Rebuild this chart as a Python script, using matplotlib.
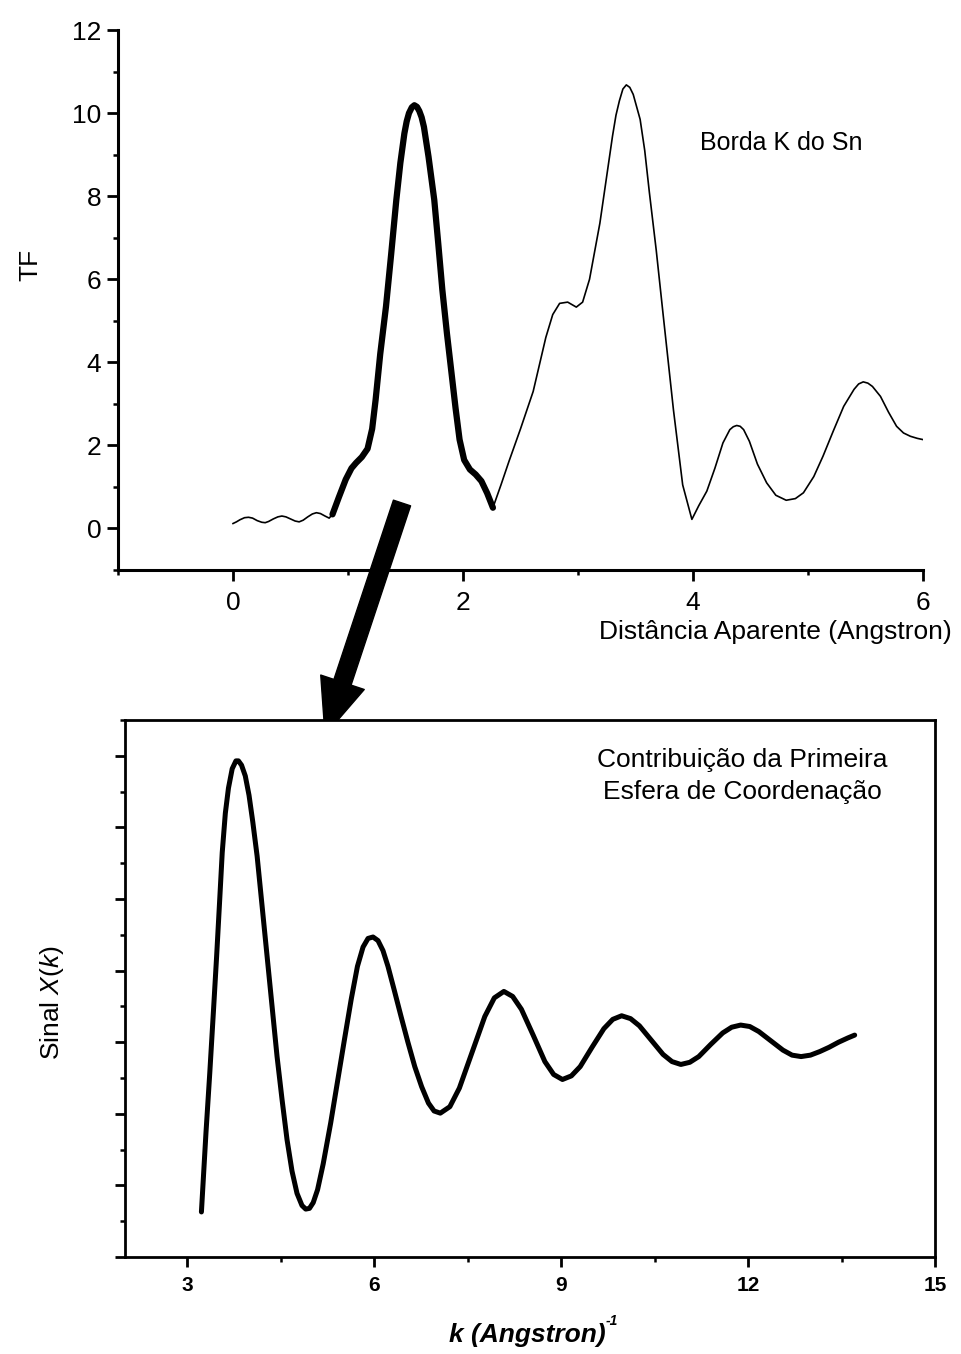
import numpy as np
import matplotlib.pyplot as plt
from matplotlib.ticker import MultipleLocator

plt.rcParams['font.family'] = ['Liberation Sans', 'DejaVu Sans']
plt.rcParams['mathtext.fontset'] = 'custom'
plt.rcParams['mathtext.rm'] = 'Liberation Sans'
plt.rcParams['mathtext.it'] = 'Liberation Sans:italic'

# Fourier transform of the Sn K-edge EXAFS, split around the first shell
R_BEFORE = [0.0, 0.03, 0.06, 0.10, 0.135, 0.17, 0.21, 0.25, 0.28, 0.31,
            0.35, 0.39, 0.425, 0.46, 0.50, 0.54, 0.575, 0.61, 0.65, 0.69,
            0.725, 0.76, 0.80, 0.836, 0.865]
TF_BEFORE = [0.12, 0.16, 0.21, 0.26, 0.27, 0.25, 0.19, 0.15, 0.14, 0.17,
             0.23, 0.28, 0.30, 0.28, 0.23, 0.18, 0.16, 0.20, 0.28, 0.35,
             0.38, 0.36, 0.30, 0.25, 0.34]

R_SHELL = [0.865, 0.92, 0.98, 1.03, 1.07, 1.12, 1.17, 1.21, 1.24, 1.28,
           1.33, 1.375, 1.42, 1.455, 1.49, 1.51, 1.53, 1.555, 1.577, 1.60,
           1.62, 1.64, 1.66, 1.70, 1.75, 1.785, 1.82, 1.86, 1.90, 1.935,
           1.97, 2.01, 2.06, 2.11, 2.16, 2.21, 2.26]
TF_SHELL = [0.34, 0.75, 1.18, 1.45, 1.58, 1.72, 1.92, 2.40, 3.10, 4.20,
            5.34, 6.60, 7.91, 8.80, 9.51, 9.80, 10.00, 10.14, 10.19, 10.15,
            10.05, 9.90, 9.67, 8.95, 7.91, 6.85, 5.75, 4.70, 3.74, 2.90,
            2.14, 1.65, 1.42, 1.30, 1.14, 0.85, 0.50]

R_AFTER = [2.26, 2.33, 2.40, 2.50, 2.61, 2.72, 2.78, 2.84, 2.91, 2.985,
           3.04, 3.10, 3.19, 3.30, 3.33, 3.36, 3.39, 3.42, 3.45, 3.48,
           3.54, 3.58, 3.62, 3.68, 3.74, 3.83, 3.91, 3.99, 4.05, 4.12,
           4.19, 4.26, 4.32, 4.35, 4.38, 4.41, 4.44, 4.49, 4.56, 4.64,
           4.72, 4.81, 4.89, 4.96, 5.05, 5.13, 5.22, 5.31, 5.40, 5.44,
           5.48, 5.52, 5.56, 5.63, 5.70, 5.77, 5.83, 5.89, 5.95, 6.00]
TF_AFTER = [0.50, 1.05, 1.62, 2.40, 3.30, 4.60, 5.15, 5.42, 5.45, 5.33,
            5.45, 6.00, 7.35, 9.45, 9.95, 10.30, 10.58, 10.68, 10.62, 10.45,
            9.85, 9.10, 8.10, 6.70, 5.15, 2.85, 1.05, 0.22, 0.55, 0.90,
            1.45, 2.06, 2.38, 2.45, 2.48, 2.46, 2.38, 2.10, 1.55, 1.10,
            0.80, 0.68, 0.72, 0.86, 1.25, 1.74, 2.35, 2.94, 3.35, 3.48,
            3.53, 3.50, 3.42, 3.18, 2.80, 2.46, 2.30, 2.22, 2.17, 2.14]

# back-transformed first coordination shell signal (arbitrary units)
K_VALS = [3.226, 3.30, 3.36, 3.42, 3.47, 3.52, 3.56, 3.61, 3.66, 3.72,
          3.78, 3.82, 3.87, 3.93, 3.99, 4.05, 4.12, 4.20, 4.28, 4.36,
          4.44, 4.52, 4.60, 4.68, 4.76, 4.84, 4.90, 4.96, 5.02, 5.09,
          5.18, 5.30, 5.41, 5.52, 5.63, 5.73, 5.82, 5.90, 5.98, 6.06,
          6.14, 6.22, 6.32, 6.43, 6.54, 6.65, 6.76, 6.87, 6.96, 7.06,
          7.213, 7.366, 7.57, 7.774, 7.927, 8.08,
          8.221, 8.362, 8.55, 8.738, 8.879, 9.02,
          9.163, 9.305, 9.495, 9.685, 9.828, 9.97,
          10.113, 10.255, 10.445, 10.635, 10.778, 10.92,
          11.064, 11.208, 11.40, 11.592, 11.736, 11.88,
          12.026, 12.171, 12.365, 12.559, 12.705, 12.85,
          13.0, 13.15, 13.3, 13.45, 13.6, 13.71]
CHI_VALS = [0.63, 1.75, 2.57, 3.45, 4.20, 5.00, 5.65, 6.20, 6.55, 6.82,
            6.93, 6.93, 6.87, 6.72, 6.45, 6.08, 5.60, 4.90, 4.20, 3.50,
            2.80, 2.20, 1.64, 1.20, 0.89, 0.72, 0.67, 0.68, 0.76, 0.94,
            1.30, 1.87, 2.45, 3.03, 3.60, 4.06, 4.33, 4.45, 4.47, 4.42,
            4.28, 4.06, 3.73, 3.36, 3.00, 2.66, 2.38, 2.15, 2.04, 2.01,
            2.10, 2.36, 2.86, 3.36, 3.62, 3.71,
            3.64, 3.46, 3.10, 2.73, 2.55, 2.48,
            2.53, 2.66, 2.93, 3.19, 3.32, 3.37,
            3.33, 3.23, 3.03, 2.83, 2.73, 2.69,
            2.72, 2.80, 2.97, 3.13, 3.21, 3.24,
            3.22, 3.15, 3.02, 2.89, 2.82, 2.80,
            2.82, 2.87, 2.93, 3.00, 3.06, 3.10]


def ft_panel(ax):
    ax.plot(R_BEFORE, TF_BEFORE, color='k', lw=1.2, solid_joinstyle='round')
    ax.plot(R_SHELL, TF_SHELL, color='k', lw=4.5, solid_capstyle='round',
            solid_joinstyle='round')
    ax.plot(R_AFTER, TF_AFTER, color='k', lw=1.2, solid_joinstyle='round')
    ax.set_xlim(-1, 6)
    ax.set_ylim(-1, 12)
    for side in ['top', 'right']:
        ax.spines[side].set_visible(False)
    for side in ['left', 'bottom']:
        ax.spines[side].set_linewidth(2.2)
    ax.xaxis.set_major_locator(MultipleLocator(2))
    ax.xaxis.set_minor_locator(MultipleLocator(1))
    ax.yaxis.set_major_locator(MultipleLocator(2))
    ax.yaxis.set_minor_locator(MultipleLocator(1))
    ax.tick_params(which='major', direction='out', length=8, width=2,
                   labelsize=19)
    ax.tick_params(which='minor', direction='out', length=3.5, width=1.8)
    ax.tick_params(axis='x', which='major', pad=7)
    ax.tick_params(axis='y', which='major', pad=4)
    ax.text(4.06, 9.28, 'Borda K do Sn', fontsize=18, va='center')


def chi_panel(ax):
    ax.plot(K_VALS, CHI_VALS, color='k', lw=3.6, solid_capstyle='round',
            solid_joinstyle='round')
    ax.set_xlim(2, 15)
    ax.set_ylim(0, 7.5)
    for side in ax.spines:
        ax.spines[side].set_linewidth(2)
    ax.xaxis.set_major_locator(MultipleLocator(3))
    ax.xaxis.set_minor_locator(MultipleLocator(1.5))
    ax.yaxis.set_major_locator(MultipleLocator(1))
    ax.yaxis.set_minor_locator(MultipleLocator(0.5))
    ax.tick_params(which='major', direction='out', length=7, width=2,
                   labelsize=15, labelleft=False, pad=7)
    ax.tick_params(which='minor', direction='out', length=3.5, width=1.8)
    for lab in ax.get_xticklabels():
        lab.set_fontweight('bold')
    ax.text(11.9, 6.72, 'Contribuição da Primeira\nEsfera de Coordenação',
            fontsize=19, ha='center', va='center', linespacing=1.45)


fig = plt.figure(figsize=(9.61, 13.54), dpi=100)
ax1 = fig.add_axes([0.1228, 0.5790, 0.8377, 0.3988])
ax2 = fig.add_axes([0.1301, 0.0716, 0.8429, 0.3966])
ft_panel(ax1)
chi_panel(ax2)

fig.text(30 / 961, 1 - 265 / 1354, 'TF', rotation=90, fontsize=19,
         ha='center', va='center')
fig.text(952 / 961, 1 - 632 / 1354, 'Distância Aparente (Angstron)',
         fontsize=19, ha='right', va='center')
fig.text(52 / 961, 1 - 1003 / 1354, 'Sinal $X(k)$', rotation=90,
         fontsize=19, ha='center', va='center')
klab = fig.text(527 / 961, 1 - 1335 / 1354, 'k (Angstron)', fontsize=19,
                fontweight='bold', style='italic', ha='center', va='center')
ax2.annotate('-1', xy=(1.0, 0.78), xycoords=klab, fontsize=10,
             fontweight='bold', style='italic', ha='left', va='bottom')

# arrow from the first-shell peak down to the filtered signal
ax1.annotate('', xy=(325, 1354 - 735), xycoords='figure pixels',
             xytext=(402, 1354 - 503), textcoords='figure pixels',
             arrowprops=dict(arrowstyle='simple,head_length=0.4,'
                                        'head_width=0.33,tail_width=0.13',
                             mutation_scale=100, fc='k', ec='k',
                             shrinkA=0, shrinkB=0))

fig.savefig('out.png', dpi=100)
